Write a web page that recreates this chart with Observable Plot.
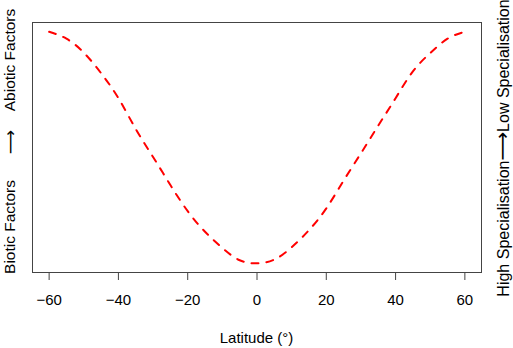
<!DOCTYPE html>
<html>
<head>
<meta charset="utf-8">
<script src="https://cdn.jsdelivr.net/npm/d3@7"></script>
<script src="https://cdn.jsdelivr.net/npm/@observablehq/plot@0.6"></script>
<style>
  html, body { margin: 0; padding: 0; background: white; }
</style>
</head>
<body>
<div id="chart"></div>
<script>
const latitude = [-60, -55, -50, -45, -40, -35, -30, -25, -20, -15, -10, -5, 0,
                  5, 10, 15, 20, 25, 30, 35, 40, 45, 50, 55, 60];
const response = [1.0, 0.97, 0.91, 0.821, 0.713, 0.58, 0.459, 0.338, 0.225, 0.136, 0.066, 0.013, 0.0,
                  0.016, 0.069, 0.143, 0.237, 0.357, 0.475, 0.595, 0.713, 0.829, 0.908, 0.97, 1.0];
const xTicks = [-60, -40, -20, 0, 20, 40, 60];
const xLabel = "Latitude (°)";
const leftLabels = ["Biotic Factors", "⟶", "Abiotic Factors"];
const rightLabels = ["High Specialisation", "⟶", "Low Specialisation"];

const data = latitude.map((x, i) => ({x, y: response[i]}));
const font = "'Liberation Sans', Arial, Helvetica, sans-serif";
const arrowFont = "'DejaVu Sans', sans-serif";

const chart = Plot.plot({
  width: 513,
  height: 348,
  marginLeft: 32,
  marginRight: 32,
  marginTop: 22,
  marginBottom: 76,
  style: {fontFamily: font, fontSize: "15px", background: "white", color: "black"},
  x: {domain: [-64.8, 64.8]},
  y: {domain: [-0.04, 1.04], axis: null},
  marks: [
    Plot.frame({stroke: "#444", strokeWidth: 1}),
    Plot.axisX(xTicks, {tickSize: 8, tickPadding: 14, label: null, fontSize: 15, stroke: "#444", fill: "black", tickFormat: d => d < 0 ? "\u2212" + Math.abs(d) : String(d)}),
    Plot.line(data, {x: "x", y: "y", stroke: "red", strokeWidth: 2, strokeDasharray: "7,8", curve: "natural"})
  ]
});

const svg = d3.select(chart);
svg.append("text")
  .attr("x", 256.5).attr("y", 343)
  .attr("text-anchor", "middle")
  .attr("font-family", font).attr("font-size", 15).attr("fill", "black")
  .text(xLabel);

const leftY = [227, 142, 60];
leftLabels.forEach((t, i) => {
  svg.append("text")
    .attr("transform", `translate(${i === 1 ? 16 : 15},${leftY[i]}) rotate(-90)`)
    .attr("text-anchor", "middle")
    .attr("font-family", i === 1 ? arrowFont : font)
    .attr("font-size", i === 1 ? 17 : 15.5).attr("fill", "black")
    .text(t);
});

const right = svg.append("text")
  .attr("transform", `translate(509,148) rotate(-90)`)
  .attr("text-anchor", "middle")
  .attr("font-family", font).attr("font-size", 16).attr("fill", "black");
rightLabels.forEach((t, i) => {
  right.append("tspan")
    .attr("font-family", i === 1 ? arrowFont : font)
    .attr("font-size", i === 1 ? 20 : 16)
    .text(t);
});

document.getElementById("chart").appendChild(chart);
</script>
</body>
</html>
